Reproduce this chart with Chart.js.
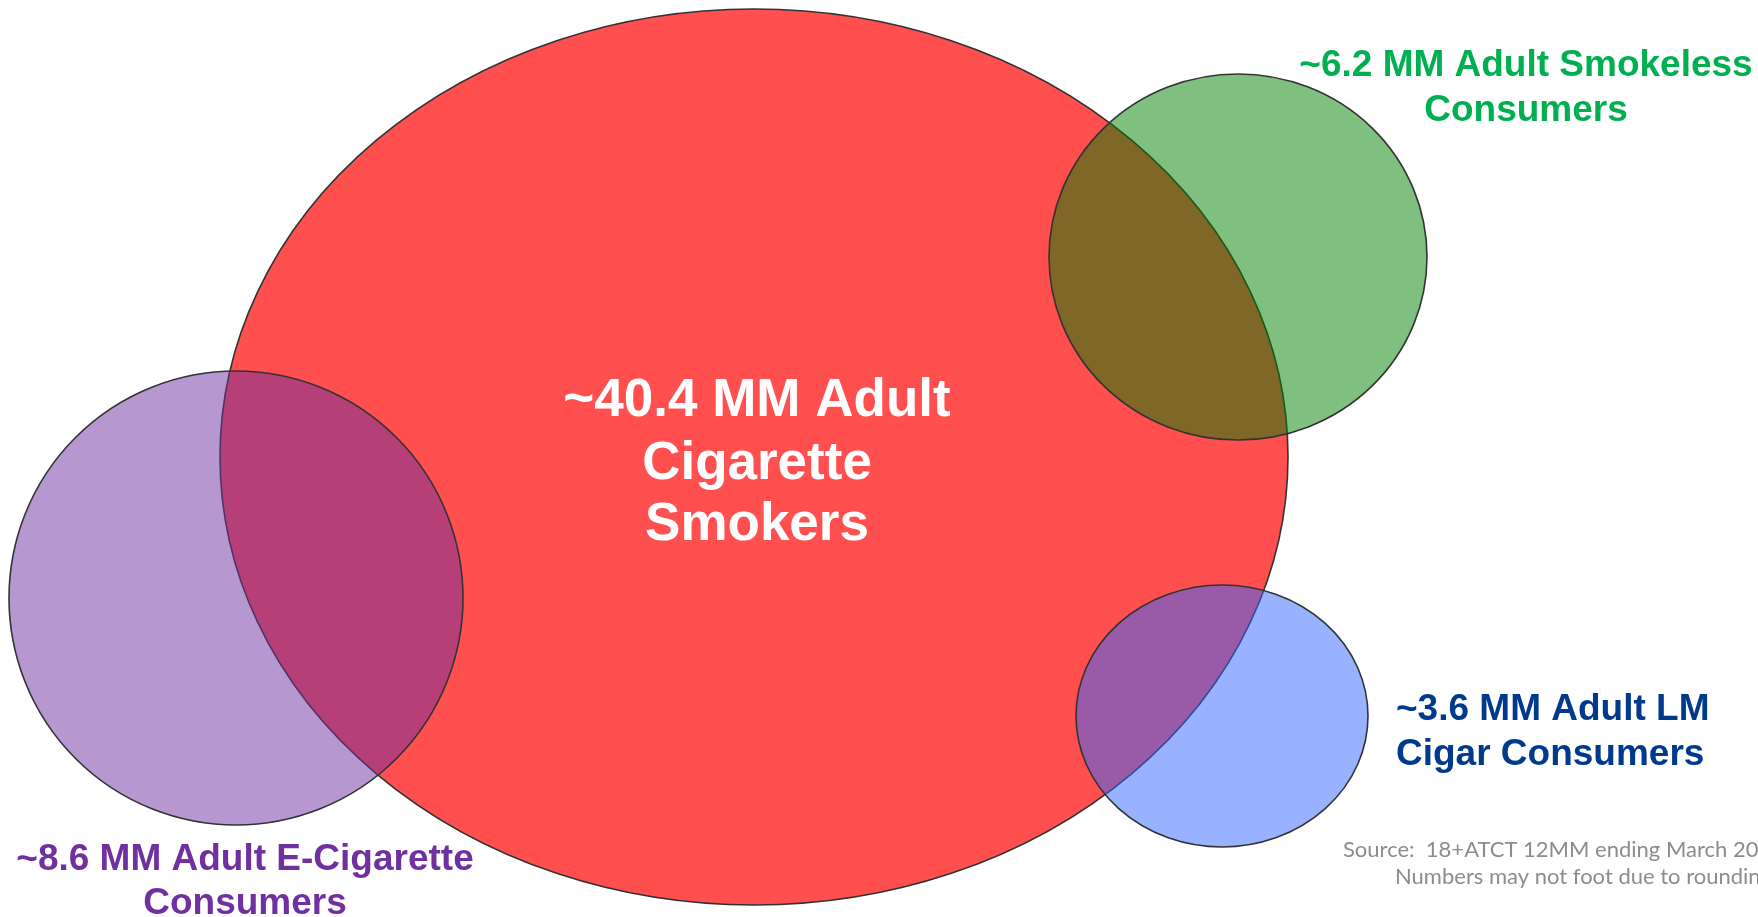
<!DOCTYPE html>
<html lang="en">
<head>
  <meta charset="UTF-8" />
  <title>Adult Tobacco Consumers</title>
  <script src="https://cdn.jsdelivr.net/npm/chart.js"></script>
  <style>
    html, body {
      margin: 0;
      padding: 0;
      background: #ffffff;
    }
    .wrap {
      width: 1758px;
      height: 917px;
      position: relative;
    }
  </style>
</head>
<body>
  <div class="wrap">
    <canvas id="venn"></canvas>
  </div>

  <script>
    // Venn groups (order = drawing order)
    const groups = ["Cigarette", "Smokeless", "E-Cigarette", "LM Cigar"];
    const millions = [40.4, 6.2, 8.6, 3.6];
    // shape centres and half-axes, in chart units
    const centerX = [754, 1238, 236, 1222];
    const centerY = [457, 257, 598, 716];
    const radiusX = [534, 189, 227, 146];
    const radiusY = [448, 183, 227, 131];

    const fills = ["rgb(255,79,79)", "rgba(0,128,0,0.5)", "rgba(112,48,160,0.5)", "rgba(51,102,255,0.5)"];

    // ellipses drawn through the chart scales
    const ellipsePlugin = {
      id: "ellipses",
      beforeDatasetsDraw(chart) {
        const ctx = chart.ctx;
        const xs = chart.scales.x, ys = chart.scales.y;
        ctx.save();
        groups.forEach((g, i) => {
          const cx = xs.getPixelForValue(centerX[i]);
          const cy = ys.getPixelForValue(centerY[i]);
          const rx = Math.abs(xs.getPixelForValue(centerX[i] + radiusX[i]) - cx);
          const ry = Math.abs(ys.getPixelForValue(centerY[i] + radiusY[i]) - cy);
          ctx.beginPath();
          ctx.ellipse(cx, cy, rx, ry, 0, 0, Math.PI * 2);
          ctx.fillStyle = fills[i];
          ctx.fill();
          ctx.lineWidth = 1.6;
          ctx.strokeStyle = "#333333";
          ctx.stroke();
        });
        ctx.restore();
      }
    };

    const labelPlugin = {
      id: "labels",
      afterDraw(chart) {
        const ctx = chart.ctx;
        ctx.save();
        ctx.textBaseline = "alphabetic";

        // big centre label
        ctx.fillStyle = "#ffffff";
        ctx.textAlign = "center";
        ctx.font = "bold 53px 'Liberation Sans', Arial, sans-serif";
        ctx.fillText("~" + millions[0] + " MM Adult", 757, 416);
        ctx.fillText("Cigarette", 757, 479);
        ctx.fillText("Smokers", 757, 540);

        ctx.font = "bold 37px 'Liberation Sans', Arial, sans-serif";
        ctx.fillStyle = "#00B050";
        ctx.fillText("~" + millions[1] + " MM Adult Smokeless", 1526, 76);
        ctx.fillText("Consumers", 1526, 121);

        ctx.fillStyle = "#7030A0";
        ctx.fillText("~" + millions[2] + " MM Adult E-Cigarette", 245, 870);
        ctx.fillText("Consumers", 245, 914);

        ctx.textAlign = "left";
        ctx.fillStyle = "#003A8C";
        ctx.fillText("~" + millions[3] + " MM Adult LM", 1396, 720);
        ctx.fillText("Cigar Consumers", 1396, 765);

        ctx.fillStyle = "#8C8C8C";
        ctx.font = "22px Lato, 'Open Sans', sans-serif";
        ctx.fillText("Source:  18+ATCT 12MM ending March 2019", 1343, 857);
        ctx.fillText("Numbers may not foot due to rounding", 1395, 884);
        ctx.restore();
      }
    };

    new Chart(document.getElementById("venn").getContext("2d"), {
      type: "scatter",
      data: {
        datasets: groups.map((g, i) => ({
          label: g,
          data: [{ x: centerX[i], y: centerY[i] }],
          pointRadius: 0,
          pointHoverRadius: 0
        }))
      },
      options: {
        responsive: true,
        maintainAspectRatio: false,
        animation: false,
        layout: { padding: 0 },
        scales: {
          x: { type: "linear", min: 0, max: 1758, display: false },
          y: { type: "linear", min: 0, max: 917, reverse: true, display: false }
        },
        plugins: {
          legend: { display: false },
          tooltip: { enabled: false }
        }
      },
      plugins: [ellipsePlugin, labelPlugin]
    });
  </script>
</body>
</html>
